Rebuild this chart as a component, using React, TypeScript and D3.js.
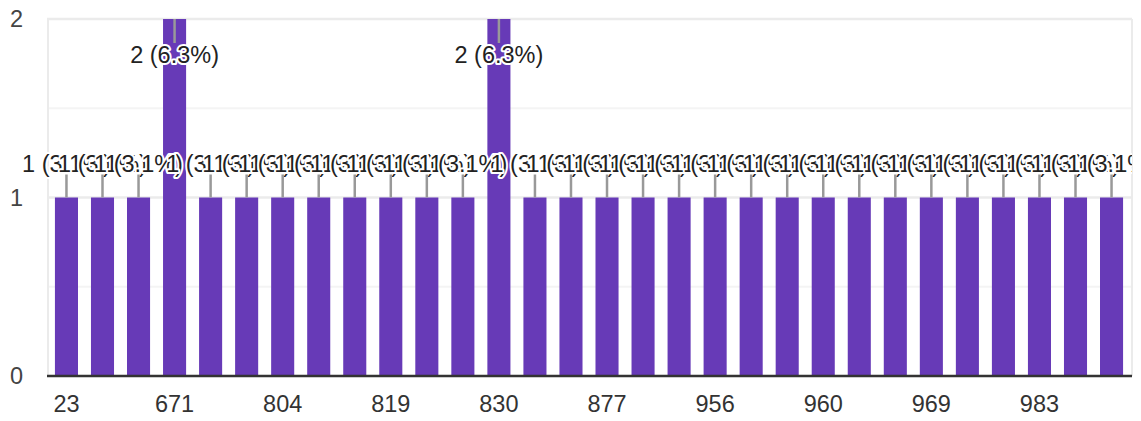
import React from "react";
import * as d3 from "d3";

const categories: string[] = [
  "23", "150", "480", "671", "700", "780", "804", "810", "815", "819",
  "822", "826", "830", "845", "860", "877", "900", "930", "956", "958",
  "959", "960", "963", "966", "969", "972", "978", "983", "990", "997",
];
const counts: number[] = [
  1, 1, 1, 2, 1, 1, 1, 1, 1, 1,
  1, 1, 2, 1, 1, 1, 1, 1, 1, 1,
  1, 1, 1, 1, 1, 1, 1, 1, 1, 1,
];
const yTicks: number[] = [0, 1, 2];
const yMinor: number[] = [0.5, 1.5];

const W = 1141;
const H = 421;
const FONT = "'Liberation Sans', Arial, sans-serif";

export default function App() {
  const total = d3.sum(counts);
  const x = d3
    .scaleBand<string>()
    .domain(categories)
    .range([47, 1131])
    .paddingInner(0.36)
    .paddingOuter(0.22);
  const y = d3.scaleLinear().domain([0, 2]).range([376, 19]);
  const tickEvery = 3;

  return (
    <div style={{ position: "absolute", left: 0, top: 0 }}>
      <svg width={W} height={H} style={{ display: "block", background: "#fff" }}>
        <defs>
          <clipPath id="lblclip">
            <rect x={0} y={0} width={1132} height={H} />
          </clipPath>
        </defs>
        {/* minor gridlines */}
        {yMinor.map((v) => (
          <line key={"m" + v} x1={47} x2={1131} y1={y(v)} y2={y(v)} stroke="#f4f4f4" strokeWidth={2} />
        ))}
        {/* major gridlines */}
        {yTicks.filter((v) => v > 0).map((v) => (
          <line key={"g" + v} x1={47} x2={1132} y1={y(v)} y2={y(v)} stroke="#ebebeb" strokeWidth={2.5} />
        ))}
        <line x1={48} x2={48} y1={y(2)} y2={y(0)} stroke="#ebebeb" strokeWidth={2} />
        <line x1={1132} x2={1132} y1={y(2)} y2={y(0)} stroke="#ebebeb" strokeWidth={2} />
        {/* y labels */}
        {yTicks.map((v) => (
          <text key={"yl" + v} x={23} y={y(v)} dy="0.36em" textAnchor="end" fontFamily={FONT} fontSize={23.5} fill="#444">
            {v}
          </text>
        ))}
        {/* bars */}
        {categories.map((c, i) => (
          <rect key={"b" + c} x={x(c)} y={y(counts[i])} width={x.bandwidth()} height={y(0) - y(counts[i])} fill="#673ab7" />
        ))}
        {/* baseline */}
        <line x1={47} x2={1132} y1={y(0)} y2={y(0)} stroke="#333" strokeWidth={2.5} />
        {/* x labels */}
        {categories.map((c, i) =>
          i % tickEvery === 0 ? (
            <text key={"xl" + c} x={(x(c) as number) + x.bandwidth() / 2} y={412} textAnchor="middle" fontFamily={FONT} fontSize={23.5} fill="#333">
              {c}
            </text>
          ) : null
        )}
        {/* annotations */}
        <g clipPath="url(#lblclip)">
          {categories.map((c, i) => {
            const cx = (x(c) as number) + x.bandwidth() / 2;
            const v = counts[i];
            const top = y(v);
            const inside = v === 2;
            const l1 = top;
            const l2 = inside ? top + 24 : top - 23;
            const base = inside ? top + 44 : top - 26;
            const pct = ((v / total) * 100).toFixed(1);
            return (
              <g key={"a" + c}>
                <line x1={cx} x2={cx} y1={l1} y2={l2} stroke="#999" strokeWidth={2.5} />
                <text
                  x={cx}
                  y={base}
                  textAnchor="middle"
                  fontFamily={FONT}
                  fontSize={23.5}
                  fill="#222"
                  stroke="#fff"
                  strokeWidth={4}
                  paintOrder="stroke"
                  strokeLinejoin="round"
                >
                  {`${v} (${pct}%)`}
                </text>
              </g>
            );
          })}
        </g>
      </svg>
    </div>
  );
}
